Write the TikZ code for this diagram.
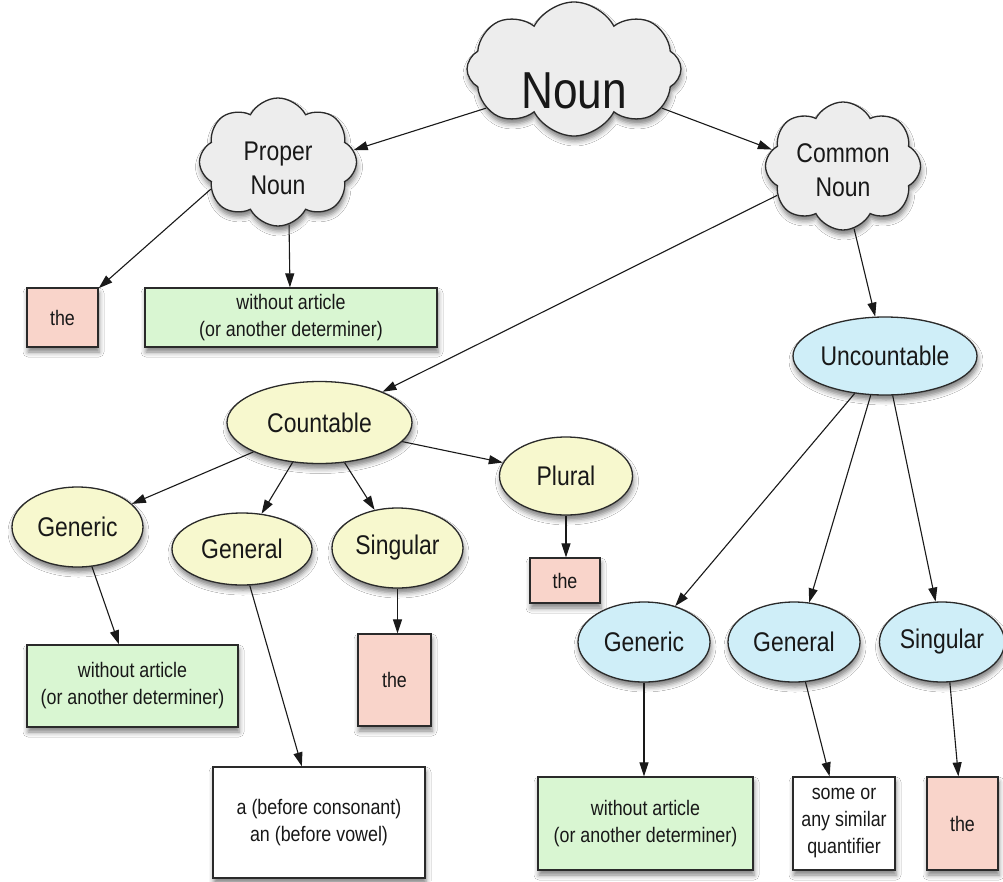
\documentclass[tikz,border=0pt]{standalone}
\usepackage{fontspec}
\setmainfont{Liberation Sans}[FakeStretch=0.85]
\usetikzlibrary{shapes.symbols,shapes.geometric,shadows.blur,arrows.meta}

\definecolor{cloudfill}{HTML}{EDEDED}
\definecolor{pinkfill}{HTML}{F9D4CA}
\definecolor{greenfill}{HTML}{D9F6D2}
\definecolor{yellowfill}{HTML}{F7F8CE}
\definecolor{bluefill}{HTML}{CFEEF8}
\definecolor{inkline}{HTML}{2A2A2A}
\definecolor{inktext}{HTML}{181818}

\begin{document}
\begin{tikzpicture}[x=1pt,y=-1pt,
  base/.style={draw=inkline, line width=1.3pt, text=inktext, inner sep=0pt,
    blur shadow={shadow xshift=1pt, shadow yshift=-5pt, shadow blur radius=5pt, shadow opacity=50}},
  cloudnode/.style={base, cloud, cloud puffs=8, cloud puff arc=125, cloud ignores aspect,
    fill=cloudfill},
  cloudtext/.style={align=center, text=inktext, inner sep=0pt, font=\fontsize{27}{34}\selectfont},
  oval/.style={base, ellipse, font=\fontsize{27}{32}\selectfont},
  countoval/.style={oval, fill=yellowfill},
  uncountoval/.style={oval, fill=bluefill},
  boxnode/.style={base, rectangle, align=center, font=\fontsize{21}{27}\selectfont},
  thebox/.style={boxnode, fill=pinkfill},
  nonebox/.style={boxnode, fill=greenfill},
  plainbox/.style={boxnode, fill=white},
  arr/.style={draw=black!90, line width=1.1pt, -{Triangle[length=14pt,width=9pt]}}
]
\fill[white] (0,0) rectangle (1003,881);
\useasboundingbox (0,0) rectangle (1003,881);

% top level clouds, their words set a little below the middle
\node[cloudnode, minimum width=214pt, minimum height=134pt,
  label={[cloudtext, yshift=-22pt, font=\fontsize{52}{60}\selectfont]center:Noun}] (noun) at (574,69) {};
\node[cloudnode, minimum width=157pt, minimum height=128pt,
  label={[cloudtext, yshift=-6pt]center:Proper\\Noun}] (proper) at (278,162) {};
\node[cloudnode, minimum width=155pt, minimum height=128pt,
  label={[cloudtext, yshift=-4pt]center:Common\\Noun}] (common) at (843,166) {};

% proper noun branch
\node[thebox, minimum width=71pt, minimum height=59pt] (the1) at (62.5,317.5) {the};
\node[nonebox, minimum width=292pt, minimum height=59pt] (wa1) at (291,317.5) {without article\\(or another determiner)};

% countable branch
\node[countoval, minimum width=185pt, minimum height=82pt] (count) at (319.5,422.5) {Countable};
\node[countoval, minimum width=131pt, minimum height=80pt] (gen1) at (77.5,527) {Generic};
\node[countoval, minimum width=140pt, minimum height=72pt] (genl1) at (242,549) {General};
\node[countoval, minimum width=131pt, minimum height=80pt] (sing1) at (397.5,548) {Singular};
\node[countoval, minimum width=133pt, minimum height=78pt] (plural) at (566,476) {Plural};
\node[thebox, minimum width=70pt, minimum height=45pt] (the3) at (565,580.5) {the};
\node[nonebox, minimum width=211pt, minimum height=82pt] (wa2) at (132.5,686) {without article\\(or another determiner)};
\node[thebox, minimum width=73pt, minimum height=92pt] (the2) at (394.5,680) {the};
\node[plainbox, minimum width=212pt, minimum height=111pt] (abox) at (319,822.5) {a (before consonant)\\an (before vowel)};

% uncountable branch
\node[uncountoval, minimum width=184pt, minimum height=78pt] (uncount) at (885,356) {Uncountable};
\node[uncountoval, minimum width=132pt, minimum height=80pt] (gen2) at (644,642) {Generic};
\node[uncountoval, minimum width=132pt, minimum height=80pt] (genl2) at (794,642) {General};
\node[uncountoval, minimum width=125pt, minimum height=80pt] (sing2) at (942,642) {Singular};
\node[nonebox, minimum width=215pt, minimum height=93pt] (wa3) at (645.5,823.5) {without article\\(or another determiner)};
\node[plainbox, minimum width=102pt, minimum height=93pt] (some) at (844,823.5) {some or\\any similar\\quantifier};
\node[thebox, minimum width=71pt, minimum height=93pt] (the4) at (962.5,823.5) {the};

% connectors
\draw[arr] (noun.204) -- (proper.9);
\draw[arr] (noun.336) -- (common.167);
\draw[arr] (proper.202) -- (the1.39);
\draw[arr] (proper.280) -- (wa1.92);
\draw[arr] (common.204) -- (count.26);
\draw[arr] (common.280.6) -- (uncount.104);
\draw[arr] (count.204) -- (gen1.23);
\draw[arr] (count.236) -- (genl1.61);
\draw[arr] (count.302) -- (sing1.121.5);
\draw[arr] (count.347) -- (plural.168.5);
\draw[arr] (gen1.290) -- (wa2.108);
\draw[arr] (genl1.282.5) -- (abox.107);
\draw[arr] (sing1.south) -- (sing1.south |- the2.north);
\draw[arr] (plural.south) -- (plural.south |- the3.north);
\draw[arr] (uncount.231) -- (gen2.49.6);
\draw[arr] (uncount.250) -- (genl2.69);
\draw[arr] (uncount.281.6) -- (sing2.99.5);
\draw[arr] (gen2.south) -- (gen2.south |- wa3.north);
\draw[arr] (genl2.286.7) -- (some.107.2);
\draw[arr] (sing2.281) -- (the4.95.5);
\end{tikzpicture}
\end{document}
